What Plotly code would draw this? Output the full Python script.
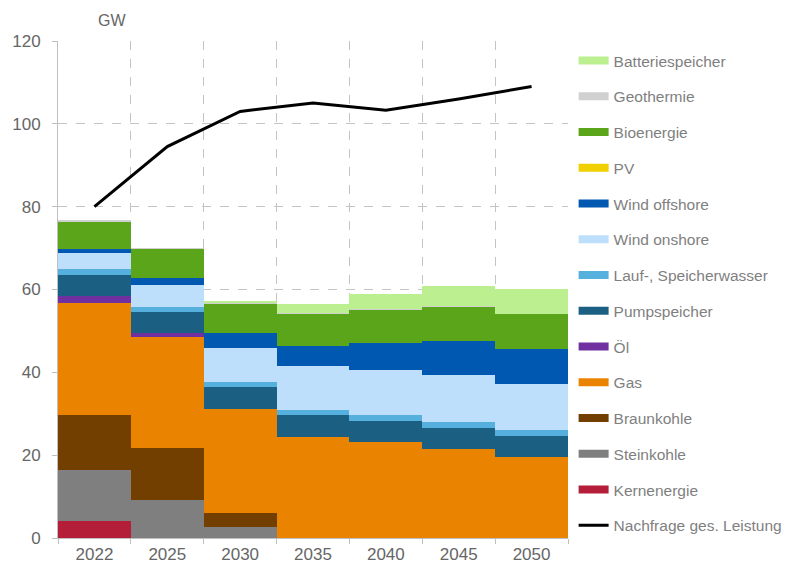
import plotly.graph_objects as go

years = ["2022", "2025", "2030", "2035", "2040", "2045", "2050"]

kernenergie = [4.1, 0, 0, 0, 0, 0, 0]
steinkohle = [12.3, 9.1, 2.7, 0, 0, 0, 0]
braunkohle = [13.3, 12.6, 3.3, 0, 0, 0, 0]
gas = [27.1, 26.8, 25.1, 24.5, 23.3, 21.5, 19.6]
oel = [1.7, 0.9, 0, 0, 0, 0, 0]
pumpspeicher = [5.1, 5.2, 5.4, 5.2, 5.0, 5.1, 5.1]
laufwasser = [1.3, 1.2, 1.2, 1.2, 1.4, 1.5, 1.4]
wind_onshore = [4.0, 5.3, 8.1, 10.7, 10.9, 11.2, 11.2]
wind_offshore = [0.9, 1.7, 3.6, 4.8, 6.4, 8.3, 8.4]
pv = [0, 0, 0, 0, 0, 0, 0]
bioenergie = [6.6, 7.0, 7.3, 7.8, 8.1, 8.4, 8.4]
geothermie = [0.2, 0.2, 0.1, 0.1, 0.1, 0.1, 0.1]
batteriespeicher = [0, 0, 0.5, 2.3, 3.6, 4.8, 6.0]
nachfrage = [80, 94.5, 103, 105, 103.3, 106, 109]

series = [
    ("Kernenergie", kernenergie, "#b51e38"),
    ("Steinkohle", steinkohle, "#7f7f7f"),
    ("Braunkohle", braunkohle, "#723f00"),
    ("Gas", gas, "#e98300"),
    ("Öl", oel, "#7030a0"),
    ("Pumpspeicher", pumpspeicher, "#1b6082"),
    ("Lauf-, Speicherwasser", laufwasser, "#55b0de"),
    ("Wind onshore", wind_onshore, "#bddffc"),
    ("Wind offshore", wind_offshore, "#0058b0"),
    ("PV", pv, "#f0d000"),
    ("Bioenergie", bioenergie, "#5aa519"),
    ("Geothermie", geothermie, "#d0d0d0"),
    ("Batteriespeicher", batteriespeicher, "#bbef8f"),
]

fig = go.Figure()

# stacked bars (bottom to top)
for name, vals, col in series:
    fig.add_trace(go.Bar(
        x=years, y=vals, name=name, marker=dict(color=col, line=dict(width=0)),
        legendgroup=name, showlegend=False,
    ))

# demand line
fig.add_trace(go.Scatter(
    x=years, y=nachfrage, mode="lines", name="Nachfrage ges. Leistung",
    line=dict(color="black", width=3), legendgroup="nachfrage", showlegend=False,
))

# legend entries (top to bottom)
for name, vals, col in reversed(series):
    fig.add_trace(go.Scatter(
        x=[None], y=[None], mode="lines", name=name,
        line=dict(color=col, width=8), legendgroup=name,
    ))
fig.add_trace(go.Scatter(
    x=[None], y=[None], mode="lines", name="Nachfrage ges. Leistung",
    line=dict(color="black", width=3), legendgroup="nachfrage",
))

# page has an 8px body margin; figure size/margins compensate for it
fig.update_layout(
    width=782, height=556,
    barmode="stack", bargap=0,
    plot_bgcolor="white", paper_bgcolor="white",
    margin=dict(l=50, r=222, t=33, b=26, autoexpand=False),
    font=dict(family="Liberation Sans, Arial, sans-serif", size=15, color="#666666"),
    showlegend=True,
    legend=dict(
        x=1.011, y=0.994, xanchor="left", yanchor="top",
        traceorder="grouped", tracegroupgap=12.6,
        font=dict(size=15.5, color="#7f7f7f"),
        bgcolor="rgba(0,0,0,0)",
    ),
    annotations=[dict(
        text="GW", xref="paper", yref="paper",
        x=(104 - 50) / 510, y=(530 - 12) / 497,
        xanchor="center", yanchor="middle", showarrow=False,
        font=dict(size=16, color="#666666"),
    )],
)

fig.update_xaxes(
    type="category", tickson="boundaries",
    showgrid=True, gridcolor="#c4c4c4", griddash="dash", gridwidth=1,
    showline=True, linecolor="#bfbfbf", linewidth=1,
    ticks="outside", ticklen=5, tickcolor="#bfbfbf",
    tickfont=dict(size=17, color="#666666"),
    ticklabelstandoff=1,
    range=[-0.5, 6.5],
)
fig.update_yaxes(
    range=[0, 120], dtick=20,
    showgrid=True, gridcolor="#c4c4c4", griddash="dash", gridwidth=1,
    showline=True, linecolor="#bfbfbf", linewidth=1,
    ticks="outside", ticklen=5, tickcolor="#bfbfbf",
    tickfont=dict(size=17, color="#666666"),
    ticklabelstandoff=8,
    zeroline=False,
)

fig.write_html("out.html")
